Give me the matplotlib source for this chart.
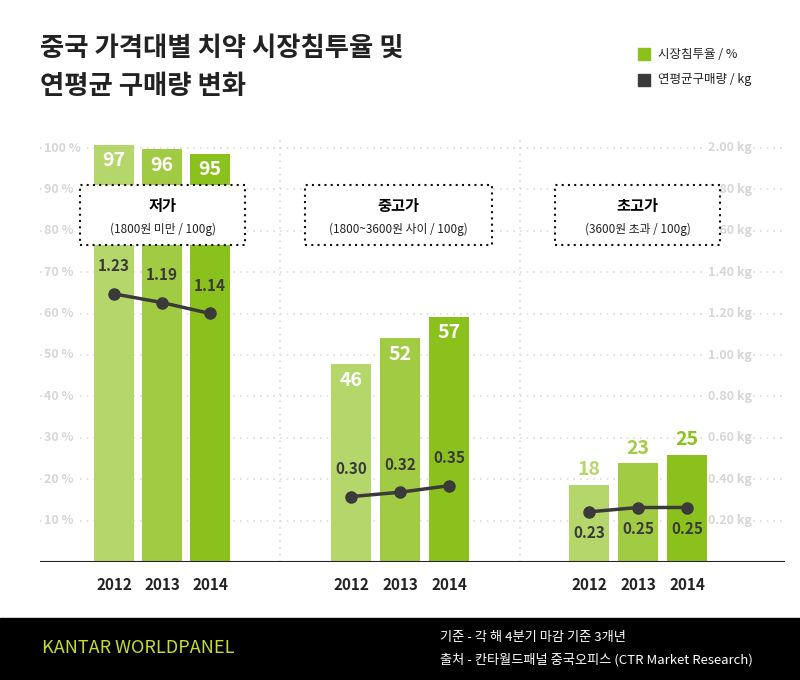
import matplotlib
matplotlib.use("Agg")
import matplotlib.pyplot as plt
from matplotlib.patches import Rectangle

plt.rcParams['font.family'] = ['Noto Sans CJK KR', 'DejaVu Sans']

years = ['2012', '2013', '2014']
groups = ['저가', '중고가', '초고가']
subtitles = ['(1800원 미만 / 100g)', '(1800~3600원 사이 / 100g)', '(3600원 초과 / 100g)']
penetration = [[97, 96, 95], [46, 52, 57], [18, 23, 25]]
volume_kg = [[1.23, 1.19, 1.14], [0.30, 0.32, 0.35], [0.23, 0.25, 0.25]]
left_ticks = [10, 20, 30, 40, 50, 60, 70, 80, 90, 100]
right_ticks = [0.2, 0.4, 0.6, 0.8, 1.0, 1.2, 1.4, 1.6, 1.8, 2.0]

colors = ['#b5d66b', '#a2cb44', '#8bc11d']
dark = '#3a3a3a'
W, H = 800, 680
fig = plt.figure(figsize=(8, 6.8), dpi=100)

base_px, top_px = 562, 140
PX = 4.3  # px per % for bars
ymax = (base_px - top_px) / PX
ax = fig.add_axes([40/W, (H-base_px)/H, 745/W, (base_px-top_px)/H])
ax.set_xlim(40, 785)
ax.set_ylim(0, ymax)
ax.axis('off')
ax2 = ax.twinx()
ax2.set_ylim(0, (base_px - top_px) / 218)
ax2.axis('off')

def px2y(p):
    return (base_px - p) / PX

centers = [[114, 162, 210], [351, 400, 449], [589, 638, 687]]
bw = 40

for t, r in zip(left_ticks, right_ticks):
    y = t * 4.14 / PX
    ax.plot([40, 785], [y, y], ls=(0, (1, 3)), color='#dcdcdc', lw=1.2, zorder=0)
    ax.text(44, y, f'{t} %', color='#d6d6d6', fontsize=9, va='center', ha='left', fontweight='bold', zorder=0,
            bbox=dict(facecolor='white', edgecolor='none', pad=1))
    ax.text(708, y, f'{r:.2f} kg', color='#d6d6d6', fontsize=9, va='center', ha='left', fontweight='bold', zorder=0,
            bbox=dict(facecolor='white', edgecolor='none', pad=1))
for xs in [280, 520]:
    ax.plot([xs, xs], [0, ymax], ls=(0, (1, 3)), color='#dcdcdc', lw=1.2, zorder=0)
ax.plot([40, 785], [0, 0], color='#222222', lw=1.5, zorder=3)

boxes = [(80, 245), (305, 492), (555, 720)]
box_px = (185, 245)
for g in range(3):
    for i in range(3):
        v = penetration[g][i]
        ax.bar(centers[g][i], v, width=bw, color=colors[i], zorder=2)
        if g < 2:
            ax.text(centers[g][i], v - 1.5, str(v), ha='center', va='top', color='white',
                    fontsize=14, fontweight='bold', zorder=4)
        else:
            ax.text(centers[g][i], v + 1.2, str(v), ha='center', va='bottom', color=colors[i],
                    fontsize=14, fontweight='bold', zorder=4)
        ax.text(centers[g][i], -3.5, years[i], ha='center', va='top', color='#222222',
                fontsize=11, fontweight='bold')
    ax2.plot(centers[g], volume_kg[g], color=dark, lw=2.5, marker='o', ms=8, zorder=5)
    for i in range(3):
        if g < 2:
            ax2.text(centers[g][i], volume_kg[g][i] + 0.09, f'{volume_kg[g][i]:.2f}',
                     ha='center', va='bottom', color=dark, fontsize=11, fontweight='bold', zorder=6)
        else:
            ax2.text(centers[g][i], volume_kg[g][i] - 0.06, f'{volume_kg[g][i]:.2f}',
                     ha='center', va='top', color=dark, fontsize=11, fontweight='bold', zorder=6)
    x0, x1 = boxes[g]
    y_top = px2y(box_px[0])
    y_bot = px2y(box_px[1])
    ax.add_patch(Rectangle((x0, y_bot), x1-x0, y_top-y_bot, facecolor='white', edgecolor='#111111',
                           ls=(0, (1, 2)), lw=1.5, zorder=7))
    xm = (x0+x1)/2
    ax.text(xm, px2y(206), groups[g], ha='center', va='center', fontsize=11, fontweight='bold', zorder=8)
    ax.text(xm, px2y(229), subtitles[g], ha='center', va='center', fontsize=8.5, zorder=8, color='#222222')

fig.text(40/W, 1-48/H, '중국 가격대별 치약 시장침투율 및', fontsize=19, fontweight='bold', va='center', color='#222222')
fig.text(40/W, 1-86/H, '연평균 구매량 변화', fontsize=19, fontweight='bold', va='center', color='#222222')

fig.patches.append(Rectangle((638/W, 1-60/H), 12/W, 12/H, transform=fig.transFigure, color=colors[2]))
fig.text(658/W, 1-54/H, '시장침투율 / %', fontsize=9, va='center', color='#222222')
fig.patches.append(Rectangle((638/W, 1-86/H), 12/W, 12/H, transform=fig.transFigure, color=dark))
fig.text(658/W, 1-80/H, '연평균구매량 / kg', fontsize=9, va='center', color='#222222')

fig.patches.append(Rectangle((0, 0), 1, 62/H, transform=fig.transFigure, color='black'))
fig.text(42/W, 1-648/H, 'KANTAR WORLDPANEL', fontsize=13, color='#c8dc2a', va='center')
fig.text(440/W, 1-637/H, '기준 - 각 해 4분기 마감 기준 3개년', fontsize=9.5, color='white', va='center')
fig.text(440/W, 1-660/H, '출처 - 칸타월드패널 중국오피스 (CTR Market Research)', fontsize=9.5, color='white', va='center')

fig.savefig('out.png', dpi=100, facecolor='white')
